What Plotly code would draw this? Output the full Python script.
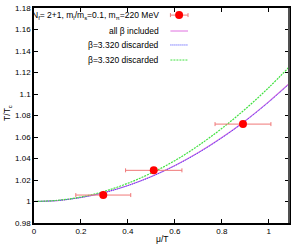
import plotly.graph_objects as go

# data points (mu/T, T/Tc) with horizontal errors
pt_x = [0.295, 0.51, 0.89]
pt_y = [1.006, 1.029, 1.072]
pt_xerr = [0.117, 0.12, 0.119]

# fitted curves
curve_x = [0.0, 0.1, 0.2, 0.3, 0.4, 0.5, 0.6, 0.7, 0.8, 0.9, 1.0, 1.086]
all_beta = [1.0, 1.0009, 1.0037, 1.0084, 1.0149, 1.0232, 1.0334, 1.0455, 1.0595, 1.0752, 1.0929, 1.1095]
disc1 = [1.0, 1.0009, 1.0037, 1.0083, 1.0148, 1.0231, 1.0333, 1.0453, 1.0592, 1.0749, 1.0925, 1.1092]
disc2 = [1.0, 1.0011, 1.0042, 1.0095, 1.017, 1.0265, 1.038, 1.052, 1.068, 1.086, 1.106, 1.125]

legend_labels = [
    "N<sub>f</sub>= 2+1, m<sub>l</sub>/m<sub>s</sub>=0.1, m<sub>π</sub>=220 MeV",
    "all β included",
    "β=3.320 discarded",
    "β=3.320 discarded",
]

PINK = "#e070e0"
BLUE = "#4040ff"
GREEN = "#40e040"
RED = "#ff0000"
ERR = "#f07878"

fig = go.Figure()
fig.add_trace(go.Scatter(x=curve_x, y=all_beta, mode="lines", line=dict(color=PINK, width=1.2, shape="spline"), showlegend=False))
fig.add_trace(go.Scatter(x=curve_x, y=disc1, mode="lines", line=dict(color=BLUE, width=1, dash="1px,1px", shape="spline"), showlegend=False))
fig.add_trace(go.Scatter(x=curve_x, y=disc2, mode="lines", line=dict(color=GREEN, width=1.2, dash="2px,1px", shape="spline"), showlegend=False))
fig.add_trace(go.Scatter(
    x=pt_x, y=pt_y, mode="markers",
    marker=dict(color=RED, size=8),
    error_x=dict(type="data", array=pt_xerr, color=ERR, thickness=1, width=2),
    showlegend=False))

font = dict(family="Liberation Sans, Arial, sans-serif", size=8, color="black")
lfont = dict(family="Liberation Sans, Arial, sans-serif", size=8.5, color="black")

# manual gnuplot-style legend
ys = [0.967, 0.893, 0.828, 0.758]
for lab, yy in zip(legend_labels, ys):
    fig.add_annotation(x=0.497, y=yy, xref="paper", yref="paper", text=lab,
                       showarrow=False, xanchor="right", yanchor="middle", font=lfont)
x0s, x1s = 0.535, 0.604
fig.add_shape(type="line", xref="paper", yref="paper", x0=x0s, x1=x1s, y0=ys[0], y1=ys[0], line=dict(color=ERR, width=1))
for xx in (x0s, x1s):
    fig.add_shape(type="line", xref="paper", yref="paper", xsizemode="scaled", ysizemode="pixel",
                  x0=xx, x1=xx, yanchor=ys[0], y0=-2, y1=2, line=dict(color=ERR, width=1))
fig.add_shape(type="circle", xref="paper", yref="paper", xsizemode="pixel", ysizemode="pixel",
              xanchor=0.569, yanchor=ys[0], x0=-4, x1=4, y0=-4, y1=4,
              fillcolor=RED, line=dict(color=RED, width=0))
fig.add_shape(type="line", xref="paper", yref="paper", x0=x0s, x1=x1s, y0=ys[1], y1=ys[1], line=dict(color=PINK, width=1))
fig.add_shape(type="line", xref="paper", yref="paper", x0=x0s, x1=x1s, y0=ys[2], y1=ys[2], line=dict(color=BLUE, width=1, dash="1px,1px"))
fig.add_shape(type="line", xref="paper", yref="paper", x0=x0s, x1=x1s, y0=ys[3], y1=ys[3], line=dict(color=GREEN, width=1, dash="2px,1px"))
# right border darker/thicker
fig.add_shape(type="line", xref="paper", yref="paper", x0=1, x1=1, y0=0, y1=1, line=dict(color="#505050", width=2))

# axis titles as annotations
fig.add_annotation(x=0.5, y=-0.075, xref="paper", yref="paper", text="μ/T", showarrow=False,
                   xanchor="center", yanchor="middle", font=lfont)
fig.add_annotation(x=-0.102, y=0.512, xref="paper", yref="paper", text="T/T<sub>c</sub>", showarrow=False,
                   textangle=-90, xanchor="center", yanchor="middle", font=lfont)

fig.update_layout(
    width=300, height=245,
    margin=dict(l=34, r=11, t=8, b=22),
    paper_bgcolor="white", plot_bgcolor="white",
    font=font,
    showlegend=False,
)
fig.update_xaxes(
    range=[0, 1.086], tickvals=[0, 0.2, 0.4, 0.6, 0.8, 1], ticktext=["0", "0.2", "0.4", "0.6", "0.8", "1"],
    ticks="inside", ticklen=4, tickcolor="black", showgrid=False, zeroline=False,
    showline=True, linecolor="black", linewidth=1.5, mirror="allticks", automargin=False,
)
fig.update_yaxes(
    range=[0.98, 1.18], tickvals=[0.98, 1.0, 1.02, 1.04, 1.06, 1.08, 1.1, 1.12, 1.14, 1.16, 1.18],
    ticktext=["0.98", "1", "1.02", "1.04", "1.06", "1.08", "1.1", "1.12", "1.14", "1.16", "1.18"],
    ticks="inside", ticklen=4, tickcolor="black", showgrid=False, zeroline=False,
    showline=True, linecolor="black", linewidth=1.5, mirror="allticks", automargin=False,
)

fig.write_html("out.html", config={"displayModeBar": False},
               post_script="document.body.style.margin='0';document.body.style.overflow='hidden';")
